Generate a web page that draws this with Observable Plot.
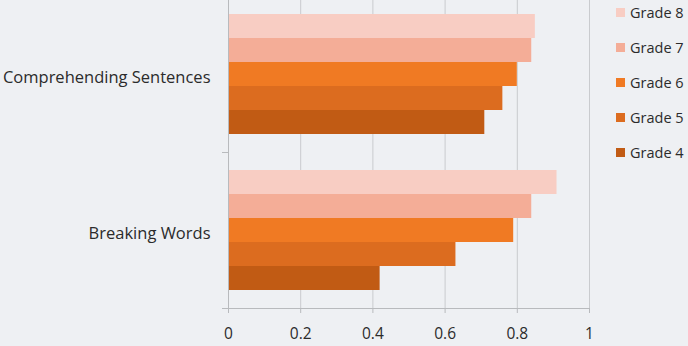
<!DOCTYPE html>
<html>
<head>
<meta charset="utf-8">
<script src="https://cdn.jsdelivr.net/npm/d3@7"></script>
<script src="https://cdn.jsdelivr.net/npm/@observablehq/plot@0.6"></script>
<style>
  html, body { margin: 0; padding: 0; background: #eef0f3; }
  #wrap { position: relative; width: 688px; height: 346px; overflow: hidden; font-family: "Open Sans", sans-serif; color: #2b2b2b; }
  #legend { position: absolute; left: 616px; top: 0; }
  .row { position: absolute; left: 0; display: flex; align-items: center; white-space: nowrap; font-size: 14.5px; }
  .sw { width: 9px; height: 9px; margin-right: 5px; }
</style>
</head>
<body>
<div id="wrap"><div id="legend"></div></div>
<script>
// Skills measured, top to bottom
const skills = ["Comprehending Sentences", "Breaking Words"];
// Grades, listed top to bottom within each skill
const grades = ["Grade 8", "Grade 7", "Grade 6", "Grade 5", "Grade 4"];
// Share of students per grade
const comprehendingSentences = [0.85, 0.84, 0.80, 0.76, 0.71];
const breakingWords = [0.91, 0.84, 0.79, 0.63, 0.42];
const gradeColors = ["#f8cdc3", "#f4ad97", "#f07a23", "#dc6c1f", "#c15b14"];
const xTicks = [0, 0.2, 0.4, 0.6, 0.8, 1];

const rows = [
  ...grades.map((g, i) => ({skill: skills[0], grade: g, value: comprehendingSentences[i]})),
  ...grades.map((g, i) => ({skill: skills[1], grade: g, value: breakingWords[i]}))
];

const axisColor = "#b8babd";

const plot = Plot.plot({
  width: 688,
  height: 346,
  marginLeft: 228,
  marginRight: 99,
  marginTop: 0,
  marginBottom: 38,
  style: {background: "transparent", fontFamily: "'Open Sans', sans-serif", fontSize: "15.5px", color: "#2b2b2b", overflow: "hidden"},
  x: {domain: [0, 1], ticks: xTicks, tickFormat: d => String(d), label: null, tickSize: 5, tickPadding: 14},
  fy: {domain: skills, range: [-4, 308], padding: 0, label: null, tickSize: 0, tickPadding: 18},
  y: {domain: grades, paddingInner: 0, paddingOuter: 0.75, axis: null},
  color: {domain: grades, range: gradeColors},
  marks: [
    Plot.ruleX(xTicks.slice(1), {stroke: "#c9cbce", strokeWidth: 1}),
    Plot.barX(rows, {x: "value", y: "grade", fy: "skill", fill: "grade"}),
    Plot.ruleX([0], {stroke: axisColor})
  ]
});

// Boundary ticks between skills and the baseline along the value axis
{
  const fy = plot.scale("fy");
  const x = plot.scale("x");
  const svg = d3.select(plot);
  const bottoms = fy.domain.map(d => fy.apply(d) + fy.bandwidth);
  const g = svg.append("g").attr("stroke", axisColor);
  bottoms.forEach(b => {
    g.append("line").attr("x1", x.apply(0) - 6).attr("x2", x.apply(0)).attr("y1", b + 0.5).attr("y2", b + 0.5);
  });
  const last = bottoms[bottoms.length - 1];
  g.append("line").attr("x1", x.apply(0)).attr("x2", x.apply(1)).attr("y1", last + 0.5).attr("y2", last + 0.5);
  svg.selectAll("[aria-label^='x-axis'] path, [aria-label^='x-axis'] line").attr("stroke", axisColor);
  svg.selectAll("[aria-label^='fy-axis'] text").style("font-size", "16.5px").attr("dy", "3px");
}

document.getElementById("wrap").prepend(plot);

// Legend
const legend = d3.select("#legend");
grades.forEach((g, i) => {
  const row = legend.append("div").attr("class", "row").style("top", (3 + i * 35) + "px");
  row.append("div").attr("class", "sw").style("background", gradeColors[i]);
  row.append("span").text(g);
});
</script>
</body>
</html>
